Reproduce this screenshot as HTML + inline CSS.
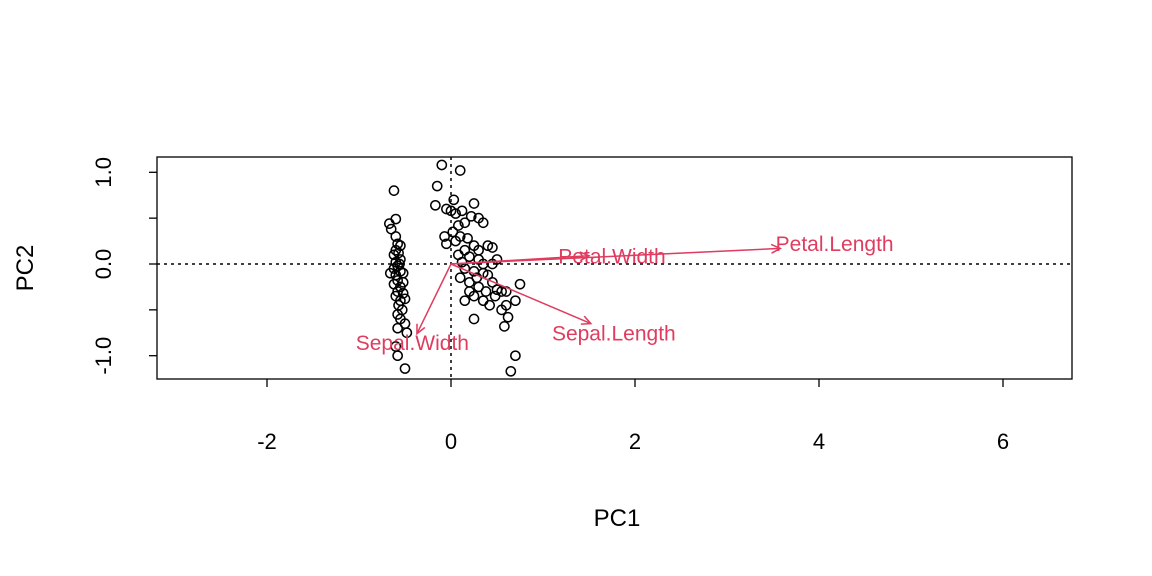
<!DOCTYPE html>
<html><head><meta charset="utf-8"><style>body{margin:0;background:#fff}svg{display:block;font-family:"Liberation Sans",Arial,sans-serif}</style></head>
<body>
<svg id="chart" width="1152" height="576" xmlns="http://www.w3.org/2000/svg">
<g id="g"></g>
</svg>
<script>
const pcx = [-0.62,-0.67,-0.6,-0.65,-0.6,-0.58,-0.55,-0.6,-0.57,-0.62,-0.55,-0.6,-0.58,-0.66,-0.55,-0.6,-0.52,-0.58,-0.62,-0.55,-0.58,-0.52,-0.6,-0.55,-0.57,-0.53,-0.58,-0.55,-0.5,-0.58,-0.48,-0.6,-0.58,-0.5,-0.52,-0.56,-0.62,-0.5,
-0.1,0.1,-0.15,-0.17,-0.05,0.0,0.03,0.05,0.12,0.25,0.3,0.35,0.22,0.15,0.08,-0.07,0.02,0.05,0.1,0.18,0.25,0.3,0.4,0.45,0.15,0.08,0.2,0.3,0.12,-0.05,0.35,0.45,0.5,0.15,0.25,0.35,0.28,0.4,0.2,0.3,0.45,0.5,0.55,0.38,0.25,0.15,0.35,0.48,0.6,0.55,0.25,0.62,0.58,0.7,0.75,0.6,0.7,0.65,0.2,0.1,0.42];
const pcy = [0.8,0.44,0.49,0.38,0.3,0.22,0.2,0.15,0.12,0.1,0.05,0.02,-0.02,-0.1,-0.08,-0.12,-0.1,-0.18,-0.22,-0.25,-0.3,-0.32,-0.35,-0.4,-0.45,-0.5,-0.55,-0.6,-0.65,-0.7,-0.75,-0.9,-1.0,-1.14,-0.2,0.0,-0.05,-0.38,
1.08,1.02,0.85,0.64,0.6,0.58,0.7,0.55,0.58,0.66,0.5,0.45,0.52,0.45,0.42,0.3,0.35,0.25,0.3,0.28,0.2,0.15,0.2,0.18,0.15,0.1,0.08,0.05,0.02,0.22,0.0,0.0,0.05,-0.05,-0.08,-0.1,-0.15,-0.12,-0.2,-0.25,-0.2,-0.28,-0.3,-0.3,-0.35,-0.4,-0.4,-0.35,-0.45,-0.5,-0.6,-0.58,-0.68,-0.4,-0.22,-0.3,-1.0,-1.17,-0.3,-0.15,-0.45];
const varNames = ["Petal.Length","Petal.Width","Sepal.Length","Sepal.Width"];
const arrowX = [3.58,1.5,1.52,-0.37];
const arrowY = [0.17,0.09,-0.65,-0.76];
const labelX = [4.17,1.75,1.77,-0.42];
const labelY = [0.22,0.08,-0.76,-0.86];
const xTicks = [-2,0,2,4,6];
const yTicks = [1.0,0.5,0.0,-0.5,-1.0];
const yTickLabels = ["1.0","","0.0","","-1.0"];

const X = v => 451 + v*92;
const Y = v => 264 - v*91.7;
const NS="http://www.w3.org/2000/svg";
const g=document.getElementById('g');
function mk(t,a,txt){const e=document.createElementNS(NS,t);for(const k in a)e.setAttribute(k,a[k]);if(txt!=null)e.textContent=txt;g.appendChild(e);return e;}

let e=mk('rect',{x:157,y:157,width:915,height:222,fill:'none',stroke:'#000','stroke-width':1.3});


e=mk('line',{x1:157,x2:1072,y1:Y(0),y2:Y(0),stroke:'#000','stroke-dasharray':'3,4','stroke-width':1.5});


e=mk('line',{x1:X(0),x2:X(0),y1:157,y2:379,stroke:'#000','stroke-dasharray':'3,4','stroke-width':1.5});



xTicks.forEach(t=>{
  e=mk('line',{x1:X(t),x2:X(t),y1:379,y2:387,stroke:'#000','stroke-width':1.3});
  
  
  e=mk('text',{x:X(t),y:449,'text-anchor':'middle','font-size':22},String(t));
  
  
});
yTicks.forEach((t,i)=>{
  e=mk('line',{x1:149,x2:157,y1:Y(t),y2:Y(t),stroke:'#000','stroke-width':1.3});
  
  
  if(yTickLabels[i]){
    e=mk('text',{x:0,y:0,'text-anchor':'middle','font-size':22,transform:`translate(111,${Y(t)}) rotate(-90)`},yTickLabels[i]);
    
    
  }
});
e=mk('text',{x:617,y:526,'text-anchor':'middle','font-size':24},'PC1');


e=mk('text',{x:0,y:0,'text-anchor':'middle','font-size':24,transform:'translate(33,268) rotate(-90)'},'PC2');



pcx.forEach((v,i)=>{
  e=mk('circle',{cx:X(v),cy:Y(pcy[i]),r:4.6,fill:'none',stroke:'#000','stroke-width':1.5});
  
  
});

const red='#DF3C5F';
varNames.forEach((n,i)=>{
  const x1=X(0),y1=Y(0),x2=X(arrowX[i]),y2=Y(arrowY[i]);
  e=mk('line',{x1,y1,x2,y2,stroke:red,'stroke-width':1.5});
  
  
  const a=Math.atan2(y2-y1,x2-x1),L=10,s=0.45;
  e=mk('path',{d:`M${x2-L*Math.cos(a-s)},${y2-L*Math.sin(a-s)} L${x2},${y2} L${x2-L*Math.cos(a+s)},${y2-L*Math.sin(a+s)}`,fill:'none',stroke:red,'stroke-width':1.5});
  
  
  e=mk('text',{x:X(labelX[i]),y:Y(labelY[i])+7,'text-anchor':'middle','font-size':21,fill:red},n);
  
  
});
</script>
</body></html>
